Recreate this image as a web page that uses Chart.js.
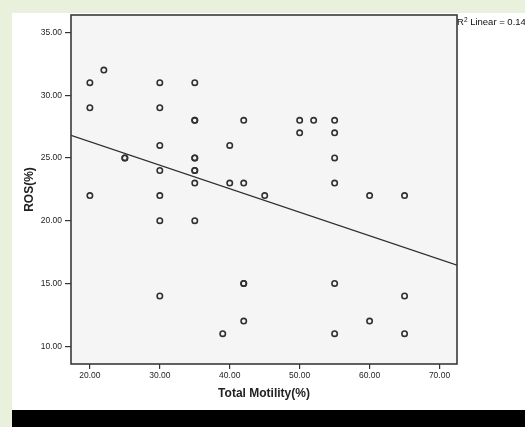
<!DOCTYPE html>
<html><head><meta charset="utf-8">
<script src="https://cdn.jsdelivr.net/npm/chart.js@4/dist/chart.umd.min.js"></script>
<style>
html,body{margin:0;padding:0;width:525px;height:427px;overflow:hidden;background:#e9f1dd;}
#panel{position:absolute;left:12px;top:13px;width:513px;height:397px;background:#fff;}
#band{position:absolute;left:12px;top:410px;width:513px;height:17px;background:#000;}
#wrap{position:absolute;left:0;top:0;width:525px;height:427px;}
#r2{position:absolute;left:457px;top:16px;font:9.5px "Liberation Sans",Arial,sans-serif;line-height:11px;color:#111;white-space:nowrap;}
#r2 sup{font-size:6.5px;line-height:0;vertical-align:3px;}
</style></head><body>
<div id="panel"></div>
<div id="band"></div>
<div id="wrap"><canvas id="c" width="525" height="427"></canvas></div>
<div id="r2">R<sup>2</sup> Linear = 0.149</div>
<script>
// Data
const totalMotility = [20, 22, 30, 35, 20, 30, 35, 35, 42, 30, 40, 25, 25, 35, 35, 30, 35, 35, 35, 40, 42, 45, 20, 30, 30, 35, 42, 42, 30, 42, 39, 50, 52, 55, 50, 55, 55, 55, 60, 65, 55, 65, 60, 55, 65];
const ros           = [31, 32, 31, 31, 29, 29, 28, 28, 28, 26, 26, 25, 25, 25, 25, 24, 24, 24, 23, 23, 23, 22, 22, 22, 20, 20, 15, 15, 14, 12, 11, 28, 28, 28, 27, 27, 25, 23, 22, 22, 15, 14, 12, 11, 11];
// Linear fit line endpoints
const fitX = [17.3, 72.5];
const fitY = [26.8, 16.46];
// Axes
const xTicks = [20, 30, 40, 50, 60, 70];
const yTicks = [10, 15, 20, 25, 30, 35];
const xRange = [17.3, 72.5];
const yRange = [8.58, 36.39];
const xTitle = 'Total Motility(%)';
const yTitle = 'ROS(%)';

const points = totalMotility.map((x, i) => ({x: x, y: ros[i]}));
const fitLine = fitX.map((x, i) => ({x: x, y: fitY[i]}));

const frame = {
  id: 'frame',
  beforeDraw(chart) {
    const a = chart.chartArea, ctx = chart.ctx;
    ctx.save();
    ctx.fillStyle = '#f5f5f5';
    ctx.fillRect(a.left, a.top, a.right - a.left, a.bottom - a.top);
    ctx.restore();
  },
  afterDraw(chart) {
    const a = chart.chartArea, ctx = chart.ctx;
    ctx.save();
    ctx.strokeStyle = '#3a3a3a';
    ctx.lineWidth = 1.6;
    ctx.strokeRect(a.left, a.top, a.right - a.left, a.bottom - a.top);
    ctx.restore();
  }
};

const tickFont = {family: '"Liberation Sans", Arial, sans-serif', size: 8.5};
const titleFont = {family: '"Liberation Sans", Arial, sans-serif', size: 12, weight: 'bold'};

new Chart(document.getElementById('c'), {
  type: 'scatter',
  data: {
    datasets: [
      {
        type: 'line',
        data: fitLine,
        borderColor: '#2e2e2e',
        borderWidth: 1.3,
        pointRadius: 0,
        fill: false,
        order: 2
      },
      {
        data: points,
        pointRadius: 2.7,
        pointBorderWidth: 1.6,
        pointBorderColor: '#303030',
        pointBackgroundColor: 'rgba(0,0,0,0)',
        borderColor: '#303030',
        backgroundColor: 'rgba(0,0,0,0)',
        order: 1
      }
    ]
  },
  options: {
    responsive: false,
    animation: false,
    devicePixelRatio: 1,
    layout: {padding: {left: 0, top: 15, right: 68, bottom: 25}},
    plugins: {legend: {display: false}, tooltip: {enabled: false}},
    scales: {
      x: {
        type: 'linear',
        min: xRange[0], max: xRange[1],
        afterBuildTicks(s) { s.ticks = xTicks.map(v => ({value: v})); },
        afterFit(s) { s.height = 38; },
        ticks: {font: tickFont, color: '#1e1e1e', padding: 2, maxRotation: 0, autoSkip: false,
                callback: v => Number(v).toFixed(2)},
        grid: {drawOnChartArea: false, drawTicks: true, tickLength: 5, color: '#333', lineWidth: 1.2},
        border: {display: false},
        title: {display: true, text: xTitle, font: titleFont, color: '#222', padding: {top: 0, bottom: 1}}
      },
      y: {
        type: 'linear',
        min: yRange[0], max: yRange[1],
        afterBuildTicks(s) { s.ticks = yTicks.map(v => ({value: v})); },
        afterFit(s) { s.width = 71; },
        ticks: {font: tickFont, color: '#1e1e1e', padding: 3, autoSkip: false,
                callback: v => Number(v).toFixed(2)},
        grid: {drawOnChartArea: false, drawTicks: true, tickLength: 6, color: '#333', lineWidth: 1.2},
        border: {display: false},
        title: {display: true, text: yTitle, font: titleFont, color: '#222', padding: {top: 22, bottom: 0}}
      }
    }
  },
  plugins: [frame]
});
</script>
</body></html>
